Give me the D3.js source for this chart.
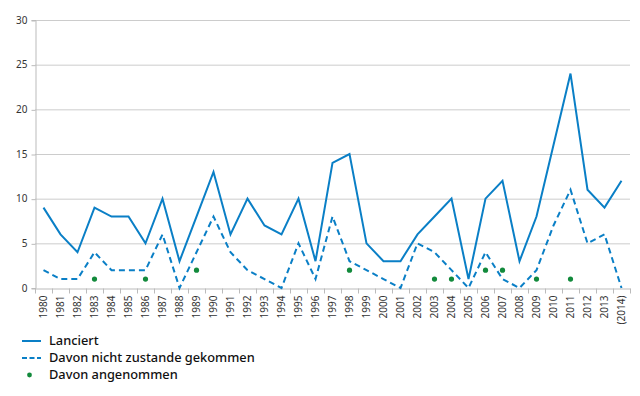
<!DOCTYPE html>
<html>
<head>
<meta charset="utf-8">
<script src="https://cdn.jsdelivr.net/npm/d3@7"></script>
<style>
  body { margin: 0; background: #fff; }
  svg { display: block; }
  .tick text { font-family: "Noto Sans", sans-serif; font-size: 10px; fill: #333; }
  .legend text { font-family: "Noto Sans", sans-serif; font-size: 12.8px; font-weight: 500; fill: #111; }
</style>
</head>
<body>
<svg id="chart" width="640" height="396"></svg>
<script>
const YEARS = ['1980','1981','1982','1983','1984','1985','1986','1987','1988','1989',
  '1990','1991','1992','1993','1994','1995','1996','1997','1998','1999',
  '2000','2001','2002','2003','2004','2005','2006','2007','2008','2009',
  '2010','2011','2012','2013','(2014)'];
const LANCIERT = [9,6,4,9,8,8,5,10,3,8, 13,6,10,7,6,10,3,14,15,5, 3,3,6,8,10,1,10,12,3,8, 16,24,11,9,12];
const NICHT_ZUSTANDE = [2,1,1,4,2,2,2,6,0,4, 8,4,2,1,0,5,1,8,3,2, 1,0,5,4,2,0,4,1,0,2, 7,11,5,6,0];
const ANGENOMMEN = [
  {year:'1983', value:1}, {year:'1986', value:1}, {year:'1989', value:2}, {year:'1998', value:2},
  {year:'2003', value:1}, {year:'2004', value:1}, {year:'2006', value:2}, {year:'2007', value:2},
  {year:'2009', value:1}, {year:'2011', value:1}
];
const Y_TICKS = [0,5,10,15,20,25,30];
const LEGEND = ['Lanciert', 'Davon nicht zustande gekommen', 'Davon angenommen'];

const BLUE = '#0a7fc6';
const GREEN = '#128a3c';
const GRID = '#cccccc';

const margin = {top: 20, right: 10, bottom: 108, left: 35};
const width = 640, height = 396;

const svg = d3.select('#chart');

const x = d3.scaleBand()
    .domain(YEARS)
    .range([margin.left, width - margin.right]);
const y = d3.scaleLinear()
    .domain([0, 30])
    .range([height - margin.bottom, margin.top]);

const cx = d => x(d) + x.bandwidth() / 2;

// grid
svg.append('g')
    .selectAll('line')
    .data(Y_TICKS.filter(t => t > 0))
    .enter()
    .append('line')
    .attr('x1', margin.left)
    .attr('x2', width - margin.right)
    .attr('y1', d => y(d) + 0.5)
    .attr('y2', d => y(d) + 0.5)
    .attr('stroke', GRID);

// y axis
const yAxis = svg.append('g')
    .attr('transform', `translate(${margin.left + 0.5},0)`)
    .call(d3.axisLeft(y).tickValues(Y_TICKS).tickSize(4).tickPadding(4));
yAxis.selectAll('line, path').attr('stroke', '#bbb');
yAxis.selectAll('.tick line').attr('transform', 'translate(0,0.5)');

// x axis with ticks at band boundaries
const xAxis = svg.append('g')
    .attr('transform', `translate(0,${y(0) + 0.5})`)
    .call(d3.axisBottom(x).tickSize(0).tickPadding(0));
xAxis.select('.domain').attr('stroke', '#bbb');
xAxis.selectAll('.tick text')
    .attr('text-anchor', 'end')
    .attr('transform', 'translate(0,7) rotate(-90)')
    .attr('dx', 0)
    .attr('dy', '0.35em')
    .attr('y', 0)
    .attr('x', 0);
xAxis.append('g')
    .selectAll('line')
    .data(YEARS.concat(['end']))
    .enter()
    .append('line')
    .attr('x1', (d, i) => Math.round(margin.left + i * x.bandwidth()) + 0.5)
    .attr('x2', (d, i) => Math.round(margin.left + i * x.bandwidth()) + 0.5)
    .attr('y1', 0)
    .attr('y2', 5)
    .attr('stroke', '#bbb');

// lines
const line = d3.line()
    .x((d, i) => cx(YEARS[i]))
    .y(d => y(d));

svg.append('path')
    .attr('d', line(NICHT_ZUSTANDE))
    .attr('fill', 'none')
    .attr('stroke', BLUE)
    .attr('stroke-width', 2)
    .attr('stroke-dasharray', '6,4');

svg.append('path')
    .attr('d', line(LANCIERT))
    .attr('fill', 'none')
    .attr('stroke', BLUE)
    .attr('stroke-width', 2);

svg.append('g')
    .selectAll('circle')
    .data(ANGENOMMEN)
    .enter()
    .append('circle')
    .attr('cx', d => cx(d.year))
    .attr('cy', d => y(d.value))
    .attr('r', 2.6)
    .attr('fill', GREEN);

// legend
const legend = svg.append('g').attr('class', 'legend');
const rows = [341, 358, 375];
legend.append('line')
    .attr('x1', 22).attr('x2', 41).attr('y1', rows[0]).attr('y2', rows[0])
    .attr('stroke', BLUE).attr('stroke-width', 2);
legend.append('line')
    .attr('x1', 22).attr('x2', 41).attr('y1', rows[1]).attr('y2', rows[1])
    .attr('stroke', BLUE).attr('stroke-width', 2).attr('stroke-dasharray', '5,2.5');
legend.append('circle')
    .attr('cx', 29.5).attr('cy', rows[2]).attr('r', 2.4).attr('fill', GREEN);
legend.selectAll('text')
    .data(LEGEND)
    .enter()
    .append('text')
    .attr('x', 49)
    .attr('y', (d, i) => rows[i])
    .attr('dy', '0.35em')
    .text(d => d);
</script>
</body>
</html>
